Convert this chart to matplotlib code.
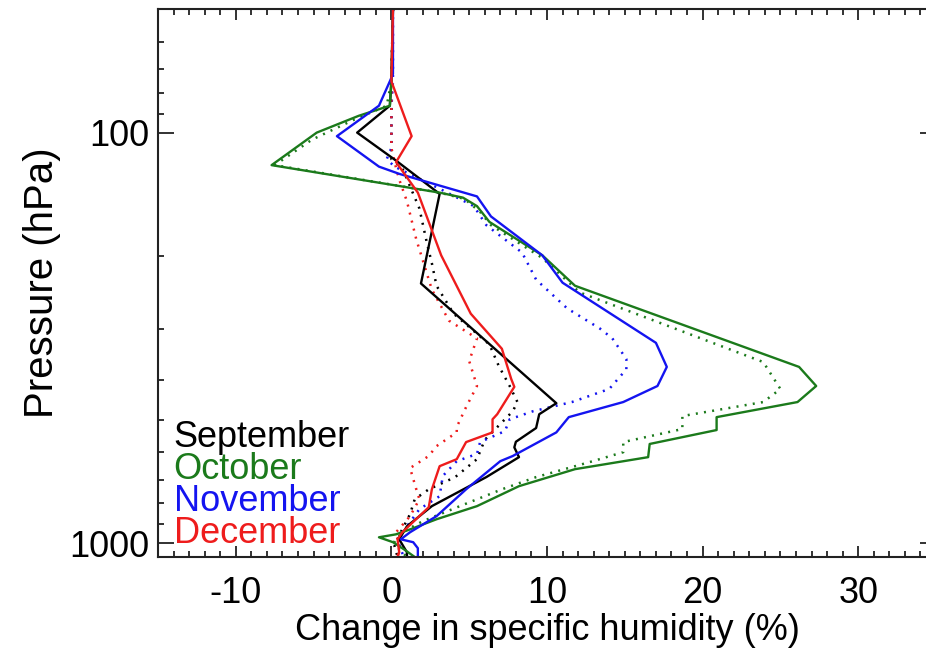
import matplotlib
matplotlib.use('Agg')
import matplotlib.pyplot as plt
from matplotlib.ticker import FixedLocator, FixedFormatter, MultipleLocator, NullFormatter

plt.rcParams['font.family'] = ['Liberation Sans', 'DejaVu Sans']
plt.rcParams['axes.unicode_minus'] = False

# ── data: (pressure hPa, change in specific humidity %) ──
months = ['September', 'October', 'November', 'December']
colors = ['#000000', '#1b7a1b', '#1414f0', '#ee1c1c']

sep_solid_p = [50, 75, 86, 100, 117, 141, 233, 456, 485, 524, 566, 584, 617, 690, 812, 909, 978, 1052, 1080]
sep_solid_v = [0.1, 0.0, -0.1, -2.2, 0.3, 3.1, 1.9, 10.6, 9.5, 9.3, 8.0, 7.9, 8.2, 6.1, 2.6, 1.0, 0.5, 1.0, 1.0]
sep_dot_p = [50, 75, 87, 116, 122, 153, 187, 208, 236, 276, 328, 370, 414, 453, 477, 560, 624, 690, 739, 781, 849, 940, 1017, 1080]
sep_dot_v = [0.1, 0.0, 0.0, 0.0, 0.7, 1.8, 2.3, 2.6, 2.9, 4.0, 6.3, 6.9, 7.6, 8.1, 7.8, 6.0, 5.5, 4.1, 2.4, 1.5, 1.2, 0.6, 0.2, 0.4]

oct_solid_p = [50, 75, 86, 91, 100, 120, 140, 144, 151, 165, 199, 236, 372, 414, 453, 493, 530, 573, 617, 660, 726, 812, 874, 925, 951, 967, 994, 1034, 1080]
oct_solid_v = [0.1, 0.0, -0.1, -2.1, -4.8, -7.7, 3.1, 4.6, 5.5, 6.3, 9.7, 11.8, 26.2, 27.3, 26.1, 20.9, 20.9, 16.6, 16.5, 11.8, 8.2, 5.5, 2.9, 1.2, 0.3, -0.8, 0.1, 0.8, 1.5]
oct_dot_p = [50, 75, 86, 93, 104, 120, 140, 145, 156, 168, 202, 245, 362, 421, 453, 490, 527, 567, 600, 635, 690, 739, 812, 884, 940, 989, 1034, 1080]
oct_dot_v = [0.1, 0.0, -0.3, -2.4, -5.1, -7.5, 3.1, 4.7, 5.7, 6.4, 9.7, 12.1, 23.9, 25.0, 23.9, 18.7, 18.7, 14.9, 14.9, 12.7, 9.3, 7.1, 4.4, 2.0, 0.7, 0.2, 0.5, 1.0]

nov_solid_p = [50, 72, 75, 86, 102, 121, 126, 143, 160, 199, 232, 325, 372, 414, 453, 493, 537, 613, 631, 739, 859, 940, 978, 994, 1028, 1080]
nov_solid_v = [0.1, 0.1, -0.1, -0.8, -3.5, -0.8, 0.5, 5.5, 6.4, 9.7, 11.0, 17.0, 17.7, 17.1, 14.9, 11.4, 10.6, 7.8, 7.0, 4.8, 2.9, 1.2, 0.6, 1.4, 1.7, 1.7]
nov_dot_p = [50, 75, 87, 109, 116, 121, 137, 151, 168, 196, 228, 268, 300, 317, 356, 377, 421, 453, 477, 499, 533, 567, 606, 631, 686, 768, 826, 909, 978, 1034, 1080]
nov_dot_v = [0.1, 0.1, 0.0, 0.0, -0.3, 0.2, 3.1, 5.3, 6.1, 8.4, 9.3, 11.3, 13.4, 14.2, 15.1, 15.1, 14.0, 11.6, 9.1, 7.6, 7.3, 5.7, 5.5, 4.2, 3.3, 3.1, 1.8, 1.0, 0.4, 0.6, 0.8]

dec_solid_p = [50, 75, 102, 118, 140, 199, 276, 336, 398, 416, 485, 499, 537, 567, 624, 649, 739, 817, 940, 978, 1052, 1080]
dec_solid_v = [0.1, 0.0, 1.3, 0.3, 1.7, 3.2, 5.1, 7.1, 7.7, 7.9, 6.8, 6.5, 6.5, 4.8, 4.2, 3.1, 2.6, 2.4, 0.7, 0.4, 0.5, 0.4]
dec_dot_p = [50, 75, 109, 122, 130, 147, 182, 241, 287, 317, 360, 414, 466, 521, 537, 580, 613, 656, 739, 781, 859, 940, 1017, 1080]
dec_dot_v = [0.1, 0.0, 0.0, 0.3, 0.5, 1.0, 1.6, 2.6, 3.7, 5.5, 5.0, 5.5, 4.8, 4.2, 4.2, 2.9, 2.4, 1.2, 1.6, 1.8, 1.2, 0.3, 0.5, 0.4]

solid = [(sep_solid_v, sep_solid_p), (oct_solid_v, oct_solid_p),
         (nov_solid_v, nov_solid_p), (dec_solid_v, dec_solid_p)]
dotted = [(sep_dot_v, sep_dot_p), (oct_dot_v, oct_dot_p),
          (nov_dot_v, nov_dot_p), (dec_dot_v, dec_dot_p)]

x_major = [-10, 0, 10, 20, 30]
y_major = [100, 1000]

# ── plot ──
fig = plt.figure(figsize=(9.26, 6.54), dpi=100)
ax = fig.add_axes([158 / 926, 97 / 654, 778 / 926, 548 / 654])

for (v, p), c in zip(dotted, colors):
    ax.plot(v, p, color=c, lw=1.8, linestyle=(0, (0.8, 2.5)))
for (v, p), c in zip(solid, colors):
    ax.plot(v, p, color=c, lw=1.7)

ax.set_yscale('log')
ax.set_ylim(1080, 50)
ax.set_xlim(-15, 35)

ax.xaxis.set_major_locator(FixedLocator(x_major))
ax.xaxis.set_major_formatter(FixedFormatter([str(x) for x in x_major]))
ax.xaxis.set_minor_locator(MultipleLocator(1))
ax.yaxis.set_major_locator(FixedLocator(y_major))
ax.yaxis.set_major_formatter(FixedFormatter([str(y) for y in y_major]))
ax.yaxis.set_minor_locator(FixedLocator([60, 70, 80, 90, 200, 300, 400, 500, 600, 700, 800, 900]))
ax.yaxis.set_minor_formatter(NullFormatter())

ax.tick_params(axis='both', which='both', direction='in', top=True, right=True,
               width=1.3, colors='#222222', labelcolor='black', labelsize=26)
ax.tick_params(axis='x', which='major', length=8, pad=14)
ax.tick_params(axis='x', which='minor', length=4.5)
ax.tick_params(axis='y', which='major', length=11.5, pad=6)
ax.tick_params(axis='y', which='minor', length=4.5)
for spine in ax.spines.values():
    spine.set_linewidth(1.5)
    spine.set_edgecolor('#222222')

ax.set_xlabel('Change in specific humidity (%)', fontsize=26, labelpad=1)
ax.set_ylabel('Pressure (hPa)', fontsize=29, labelpad=6)

for i, (m, c) in enumerate(zip(months, colors)):
    ax.text(0.02, 0.218 - i * 0.0585, m, color=c, fontsize=26,
            transform=ax.transAxes, va='center', ha='left')

fig.savefig('out.png', dpi=100)
plt.close(fig)
